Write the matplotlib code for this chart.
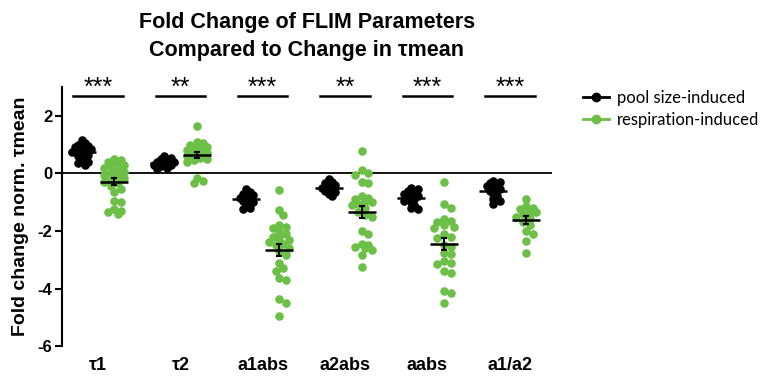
import matplotlib
matplotlib.use("Agg")
import matplotlib.pyplot as plt
from matplotlib.lines import Line2D
import numpy as np

categories = ["τ1", "τ2", "a1abs", "a2abs", "aabs", "a1/a2"]
stars = ["***", "**", "***", "**", "***", "***"]

pool_size = [
    [1.15, 1.05, 1.0, 0.95, 0.9, 0.9, 0.85, 0.8, 0.8, 0.75, 0.7, 0.65, 0.6, 0.55, 0.45, 0.4, 0.35, 0.3],
    [0.6, 0.55, 0.5, 0.45, 0.4, 0.4, 0.35, 0.3, 0.3, 0.25, 0.2, 0.15],
    [-0.55, -0.65, -0.7, -0.75, -0.8, -0.85, -0.9, -0.95, -1.0, -1.1, -1.2, -1.25],
    [-0.2, -0.3, -0.35, -0.4, -0.45, -0.5, -0.55, -0.6, -0.65, -0.7, -0.8],
    [-0.5, -0.55, -0.6, -0.65, -0.7, -0.75, -0.8, -0.85, -0.9, -0.95, -1.0, -1.1, -1.2, -1.25],
    [-0.25, -0.3, -0.35, -0.4, -0.45, -0.5, -0.55, -0.6, -0.7, -0.8, -0.9, -0.95, -1.05],
]
respiration = [
    [0.5, 0.45, 0.4, 0.35, 0.3, 0.25, 0.2, 0.1, 0.05, 0.0, -0.05, -0.1, -0.15, -0.2, -0.3,
     -0.35, -0.45, -0.55, -0.65, -0.95, -1.0, -1.25, -1.3, -1.35, -1.4],
    [1.65, 1.1, 1.05, 1.0, 0.95, 0.9, 0.85, 0.8, 0.75, 0.7, 0.65, 0.6, 0.55, 0.5, 0.45, 0.4,
     -0.15, -0.25, -0.35],
    [-0.56, -1.27, -1.44, -1.8, -1.85, -1.9, -2.05, -2.1, -2.2, -2.25, -2.3, -2.4, -2.45, -2.5,
     -2.6, -2.7, -2.85, -3.1, -3.3, -3.4, -3.65, -3.7, -4.35, -4.5, -4.95],
    [0.77, 0.1, 0.0, -0.05, -0.3, -0.35, -0.8, -0.85, -0.9, -0.95, -1.0, -1.05, -1.1, -1.2,
     -1.35, -1.45, -1.5, -2.0, -2.1, -2.45, -2.5, -2.55, -2.6, -2.65, -2.85, -3.25],
    [-0.3, -1.05, -1.2, -1.6, -1.65, -1.7, -1.8, -1.85, -1.9, -2.1, -2.2, -2.25, -2.5, -2.55,
     -2.75, -2.8, -3.05, -3.1, -3.15, -3.4, -3.45, -4.1, -4.15, -4.5],
    [-0.9, -1.15, -1.2, -1.25, -1.3, -1.35, -1.4, -1.5, -1.55, -1.7, -1.8, -2.0, -2.1, -2.35, -2.75],
]

groups = ["pool size-induced", "respiration-induced"]
green = "#6cbf47"

# pixels per data unit on each axis, used to pack the dots
PX_X = 82.4
PX_Y = 28.7
DOT = 8.3  # dot diameter in px


def spread(vals, min_gap):
    """x offsets (data units) so the dots overlap only partly, GraphPad-style."""
    order = np.argsort(vals)[::-1]
    placed = []
    offs = np.zeros(len(vals))
    steps = [0]
    for k in range(1, 4):
        steps += [k, -k]
    for idx in order:
        y = vals[idx] * PX_Y
        best, best_d = 0.0, -1
        for s in steps:
            x = s * DOT * 0.4
            d = min([np.hypot(x - px, y - py) for px, py in placed] or [99])
            if d >= DOT * min_gap:
                best = x
                break
            if d > best_d:
                best, best_d = x, d
        placed.append((best, y))
        offs[idx] = best / PX_X
    return offs


plt.rcParams["font.family"] = ["Liberation Sans", "DejaVu Sans"]
fig = plt.figure(figsize=(7.69, 3.85), dpi=100)
ax = fig.add_axes([0.0806, 0.101, 0.637, 0.673])

offset = 0.2
for i in range(len(categories)):
    for vals, dx, col, gap in ((pool_size[i], -offset, "black", 0.45),
                               (respiration[i], offset, green, 0.7)):
        v = np.array(vals)
        ax.scatter(i + dx + spread(v, gap), v, s=38, color=col, linewidths=0, zorder=3)
        # mean +/- SEM
        m = v.mean()
        sem = v.std(ddof=1) / np.sqrt(len(v))
        ax.hlines(m, i + dx - 0.17, i + dx + 0.17, color="black", lw=1.8, zorder=5)
        ax.errorbar(i + dx, m, yerr=sem, color="black", lw=1.5, capsize=2.5,
                    capthick=1.5, zorder=5)

ax.axhline(0, color="black", lw=1.3, zorder=1)

# significance bars
for i, s in enumerate(stars):
    ax.plot([i - 0.3, i + 0.3], [2.68, 2.68], color="black", lw=1.8, clip_on=False)
    ax.text(i, 2.55, s, ha="center", va="bottom", fontsize=18, clip_on=False)

ax.set_xlim(-0.437, 5.51)
ax.set_ylim(-6, 3)
ax.set_yticks([2, 0, -2, -4, -6])
ax.set_yticklabels(["2", "0", "-2", "-4", "-6"], fontsize=12, fontweight="bold")
ax.set_xticks(range(len(categories)))
ax.set_xticklabels(categories, fontsize=13, fontweight="bold")
ax.tick_params(axis="x", length=0, pad=8)
ax.tick_params(axis="y", width=1.5, length=5, pad=2)
ax.set_ylabel("Fold change norm. τmean", fontsize=14, fontweight="bold", labelpad=6)
for sp in ["top", "right", "bottom"]:
    ax.spines[sp].set_visible(False)
ax.spines["left"].set_linewidth(1.5)

ax.set_title("Fold Change of FLIM Parameters\nCompared to Change in τmean",
             fontsize=15.5, fontweight="bold", pad=22, linespacing=1.45)

handles = [Line2D([], [], color="black", marker="o", markersize=6, lw=2),
           Line2D([], [], color=green, marker="o", markersize=6, lw=2)]
fig.legend(handles, groups, loc="upper left", bbox_to_anchor=(0.758, 0.767),
           frameon=False, prop={"family": "Lato", "size": 12},
           handlelength=1.55, handletextpad=0.48, labelspacing=0.38,
           borderpad=0, borderaxespad=0)

fig.savefig("out.png", dpi=100)
